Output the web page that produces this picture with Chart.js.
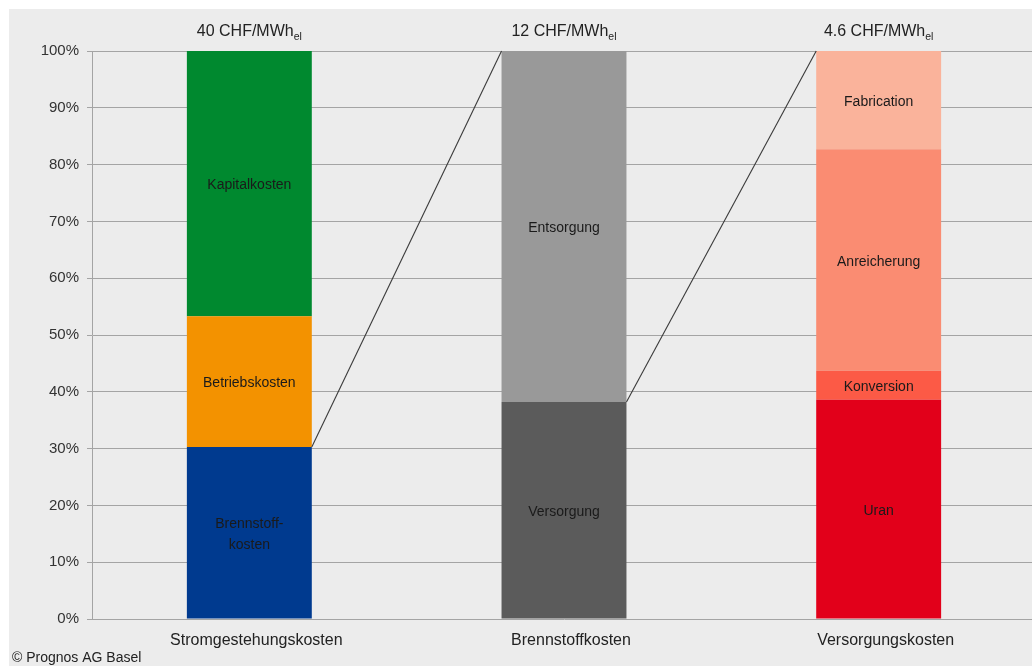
<!DOCTYPE html>
<html>
<head>
<meta charset="utf-8">
<script src="https://cdn.jsdelivr.net/npm/chart.js@4"></script>
<style>
  html, body { margin: 0; padding: 0; background: #ffffff; overflow: hidden; }
  #wrap { position: absolute; left: 0; top: 0; width: 1036px; height: 666px; }
</style>
</head>
<body>
<div id="wrap"><canvas id="c" width="1036" height="666"></canvas></div>
<script>
// Cost categories (one stacked bar each) and the cost level written above each bar
const categories = ['Stromgestehungskosten', 'Brennstoffkosten', 'Versorgungskosten'];
const totalValues = ['40', '12', '4.6'];
const totalUnit = 'CHF/MWh';
const totalUnitSub = 'el';

// Shares in percent, bottom to top
const stromLabels = ['Brennstoff-\nkosten', 'Betriebskosten', 'Kapitalkosten'];
const stromShares = [30.3, 23.0, 46.7];
const stromColors = ['#003a8f', '#f39200', '#00892f'];

const brennLabels = ['Versorgung', 'Entsorgung'];
const brennShares = [38.2, 61.8];
const brennColors = ['#5b5b5b', '#999999'];

const versLabels = ['Uran', 'Konversion', 'Anreicherung', 'Fabrication'];
const versShares = [38.6, 5.1, 39.0, 17.3];
const versColors = ['#e2001a', '#fc5a46', '#fa8c72', '#fab39b'];

const yTicks = [0, 10, 20, 30, 40, 50, 60, 70, 80, 90, 100];

// Which segment of a bar is expanded into the next bar: [bar index, segment index]
const zoomLinks = [[0, 0], [1, 0]];

const FONT = '"Liberation Sans", Arial, sans-serif';

const groups = [
  { labels: stromLabels, shares: stromShares, colors: stromColors },
  { labels: brennLabels, shares: brennShares, colors: brennColors },
  { labels: versLabels, shares: versShares, colors: versColors }
];

const datasets = [];
groups.forEach((g, gi) => {
  g.shares.forEach((v, si) => {
    const data = categories.map((_, ci) => (ci === gi ? v : null));
    datasets.push({
      label: g.labels[si],
      data: data,
      backgroundColor: g.colors[si],
      borderWidth: 0,
      barPercentage: 1,
      categoryPercentage: 0.397,
      segGroup: gi,
      segIndex: si
    });
  });
});

const backdrop = {
  id: 'backdrop',
  beforeDraw(chart) {
    const ctx = chart.ctx;
    ctx.save();
    ctx.fillStyle = '#ffffff';
    ctx.fillRect(0, 0, chart.width, chart.height);
    ctx.fillStyle = '#ececec';
    ctx.fillRect(9, 9, chart.width - 9, chart.height - 9);
    ctx.restore();
  }
};

function findMeta(chart, gi, si) {
  for (let i = 0; i < chart.data.datasets.length; i++) {
    const ds = chart.data.datasets[i];
    if (ds.segGroup === gi && ds.segIndex === si) return chart.getDatasetMeta(i);
  }
  return null;
}

const annotate = {
  id: 'annotate',
  afterDatasetsDraw(chart) {
    const ctx = chart.ctx;
    const yScale = chart.scales.y;
    const xScale = chart.scales.x;
    ctx.save();

    // Segment names inside the bars
    ctx.font = '14px ' + FONT;
    ctx.fillStyle = '#1a1a1a';
    ctx.textAlign = 'center';
    ctx.textBaseline = 'middle';
    chart.data.datasets.forEach((ds, i) => {
      const meta = chart.getDatasetMeta(i);
      const el = meta.data[ds.segGroup];
      if (!el) return;
      const cy = (el.y + el.base) / 2 + 2;
      const lines = ds.label.split('\n');
      const lh = 21;
      lines.forEach((t, k) => {
        ctx.fillText(t, el.x, cy + (k - (lines.length - 1) / 2) * lh);
      });
    });

    // Lines from the expanded segment to the top of the following bar
    ctx.strokeStyle = '#3a3a3a';
    ctx.lineWidth = 1.1;
    zoomLinks.forEach(([gi, si]) => {
      const m1 = findMeta(chart, gi, si);
      const m2 = findMeta(chart, gi + 1, 0);
      const a = m1.data[gi];
      const b = m2.data[gi + 1];
      ctx.beginPath();
      ctx.moveTo(a.x + a.width / 2, a.y);
      ctx.lineTo(b.x - b.width / 2, yScale.getPixelForValue(100));
      ctx.stroke();
    });

    // Cost level above each bar, with subscript unit
    categories.forEach((_, ci) => {
      const cx = xScale.getPixelForValue(ci);
      const main = totalValues[ci] + ' ' + totalUnit;
      ctx.font = '16px ' + FONT;
      const w1 = ctx.measureText(main).width;
      ctx.font = '10.5px ' + FONT;
      const w2 = ctx.measureText(totalUnitSub).width;
      const x0 = cx - (w1 + w2) / 2;
      ctx.textAlign = 'left';
      ctx.fillStyle = '#222222';
      ctx.font = '16px ' + FONT;
      ctx.fillText(main, x0, 32);
      ctx.font = '10.5px ' + FONT;
      ctx.fillText(totalUnitSub, x0 + w1, 37);
    });

    // Source note
    ctx.font = '14px ' + FONT;
    ctx.textAlign = 'left';
    ctx.fillStyle = '#222222';
    ctx.fillText('\u00a9 Prognos AG Basel', 12, 658);
    ctx.restore();
  }
};

new Chart(document.getElementById('c'), {
  type: 'bar',
  data: { labels: categories, datasets: datasets },
  options: {
    responsive: false,
    animation: false,
    devicePixelRatio: 1,
    layout: { padding: { left: 0, right: 0, top: 51, bottom: 0 } },
    plugins: { legend: { display: false }, tooltip: { enabled: false } },
    scales: {
      x: {
        stacked: true,
        grid: { display: false },
        border: { display: false },
        ticks: { color: '#222222', font: { family: FONT, size: 16 }, padding: 4, labelOffset: 7, maxRotation: 0 },
        afterFit(scale) { scale.height = 47; }
      },
      y: {
        stacked: true,
        min: 0,
        max: 100,
        afterBuildTicks(scale) { scale.ticks = yTicks.map(v => ({ value: v })); },
        grid: { color: '#a4a4a4', lineWidth: 1, tickLength: 5, drawTicks: true },
        border: { display: true, color: '#a4a4a4', width: 1 },
        ticks: {
          color: '#333333',
          font: { family: FONT, size: 15 },
          padding: 8,
          callback: v => v + '%'
        },
        afterFit(scale) { scale.width = 92; }
      }
    }
  },
  plugins: [backdrop, annotate]
});
</script>
</body>
</html>
